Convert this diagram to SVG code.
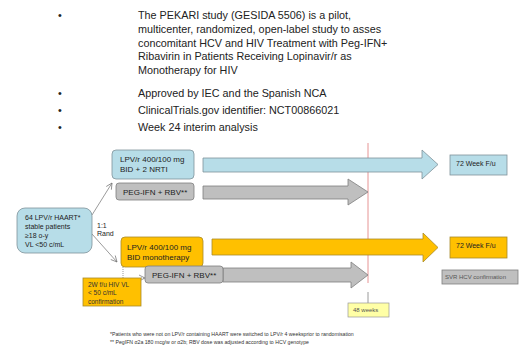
<svg xmlns="http://www.w3.org/2000/svg" width="529" height="350" viewBox="0 0 529 350">
<defs>
<style>
text{font-family:"Liberation Sans",Arial,sans-serif;fill:#222}
.top{font-size:10.8px}
.bx{font-size:8px}
.sm{font-size:7px}
.xs{font-size:6px;fill:#555}
.cf{font-size:6.5px;fill:#333}
.ft{font-size:5.2px;fill:#333}
.blue{fill:#b7dde8;stroke:#7f9299;stroke-width:0.8}
.gray{fill:#bfbfbf;stroke:#7f7f7f;stroke-width:0.8}
.orange{fill:#ffc000;stroke:#a88a2a;stroke-width:0.8}
.conn{stroke:#707070;stroke-width:0.7;fill:none}
</style>
<marker id="ah" markerWidth="8" markerHeight="8" refX="7" refY="4" orient="auto" markerUnits="userSpaceOnUse">
<path d="M1,1 L7,4 L1,7" fill="none" stroke="#707070" stroke-width="0.7"/>
</marker>
</defs>
<rect width="529" height="350" fill="#fff"/>

<g id="bullets">
<text class="top" x="58" y="19">•</text>
<text class="top" x="138" y="19">The PEKARI study (GESIDA 5506) is a pilot,</text>
<text class="top" x="138" y="33">multicenter, randomized, open-label study to asses</text>
<text class="top" x="138" y="47">concomitant HCV and HIV Treatment with Peg-IFN+</text>
<text class="top" x="138" y="60">Ribavirin in Patients Receiving Lopinavir/r as</text>
<text class="top" x="138" y="74">Monotherapy for HIV</text>
<text class="top" x="58" y="97">•</text>
<text class="top" x="138" y="97">Approved by IEC and the Spanish NCA</text>
<text class="top" x="58" y="114">•</text>
<text class="top" x="138" y="114">ClinicalTrials.gov identifier: NCT00866021</text>
<text class="top" x="58" y="131">•</text>
<text class="top" x="138" y="131">Week 24 interim analysis</text>
</g>

<g id="timeline">
<line x1="368" y1="143" x2="368" y2="283" stroke="#e07a7a" stroke-width="0.8"/>
<line x1="368" y1="292" x2="368" y2="303" stroke="#808080" stroke-width="0.8"/>
</g>

<g id="block-arrows">
<path class="blue" d="M203,158 H422 V150 L438,164.5 L422,179 V172 H203 Z"/>
<path class="gray" d="M203,186 H348 V179 L368,192 L348,205 V199 H203 Z"/>
<path class="orange" d="M212,239 H423 V233 L438,247.5 L423,262 V255 H212 Z"/>
<path class="gray" d="M223,268 H351 V262 L368,275 L351,288 V282 H223 Z"/>
</g>

<g id="connectors">
<line class="conn" x1="92" y1="215" x2="112" y2="183" marker-end="url(#ah)"/>
<line class="conn" x1="92" y1="234" x2="117" y2="262" marker-end="url(#ah)"/>
<line class="conn" x1="123" y1="267" x2="123" y2="278" stroke-dasharray="1,1"/>
<line class="conn" x1="141" y1="278" x2="145" y2="278" stroke-dasharray="1,1" marker-end="url(#ah)"/>
<text class="sm" x="97" y="228">1:1</text>
<text class="sm" x="97" y="236">Rand</text>
</g>

<g id="patients">
<rect class="blue" x="17" y="208" width="75" height="45" rx="8"/>
<text class="sm" x="25" y="220">64 LPV/r HAART*</text>
<text class="sm" x="25" y="229">stable patients</text>
<text class="sm" x="25" y="238">≥18 o-y</text>
<text class="sm" x="25" y="247">VL &lt;50 c/mL</text>
</g>

<g id="arm1">
<rect class="blue" x="112" y="150" width="82" height="29" rx="4"/>
<text class="bx" x="120" y="162">LPV/r 400/100 mg</text>
<text class="bx" x="120" y="172">BID + 2 NRTI</text>
</g>

<g id="peg1">
<rect class="gray" x="116" y="183" width="78" height="17" rx="3"/>
<text class="bx" x="123" y="195">PEG-IFN + RBV**</text>
</g>

<g id="arm2">
<rect class="orange" x="121" y="237" width="82" height="30" rx="4"/>
<text class="bx" x="127" y="250">LPV/r 400/100 mg</text>
<text class="bx" x="127" y="260">BID monotherapy</text>
</g>

<g id="peg2">
<rect class="gray" x="145" y="266" width="78" height="17" rx="3"/>
<text class="bx" x="152" y="278">PEG-IFN + RBV**</text>
</g>

<g id="confirm">
<rect class="orange" x="83" y="278" width="58" height="28"/>
<text class="cf" x="88" y="287">2W f/u HIV VL</text>
<text class="cf" x="88" y="295">&lt; 50 c/mL</text>
<text class="cf" x="88" y="304">confirmation</text>
</g>

<g id="fu1">
<rect class="blue" x="450" y="155" width="57" height="20"/>
<text class="sm" x="456" y="166">72 Week F/u</text>
</g>

<g id="fu2">
<rect class="orange" x="450" y="237" width="57" height="21"/>
<text class="sm" x="456" y="248">72 Week F/u</text>
</g>

<g id="svr">
<rect class="gray" x="442" y="270" width="76" height="14"/>
<text class="xs" x="445" y="279">SVR HCV confirmation</text>
</g>

<g id="week48">
<rect x="348" y="303" width="41" height="14" fill="#ffffa6" stroke="#999" stroke-width="0.7"/>
<text class="xs" x="353" y="312">48 weeks</text>
</g>

<g id="footnotes">
<text class="ft" x="110" y="336">*Patients who were not on LPV/r containing  HAART were switched to LPV/r 4 weeksprior to randomisation</text>
<text class="ft" x="110" y="344">** PegIFN α2a 180 mcg/w or α2b;  RBV dose was adjusted according to HCV genotype</text>
</g>
</svg>
